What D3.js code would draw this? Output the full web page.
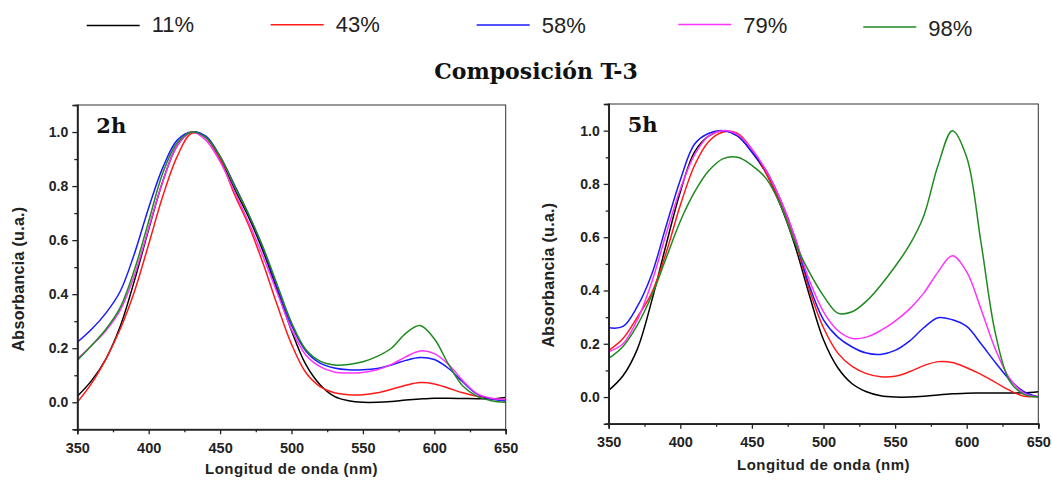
<!DOCTYPE html>
<html><head><meta charset="utf-8">
<script src="https://cdn.jsdelivr.net/npm/d3@7"></script>
<style>body{margin:0;background:#fff;overflow:hidden}</style>
</head><body>
<svg id="c" width="1052" height="484"></svg>
<script>
// ---------- DATA ----------
const wavelengths = [350,360,370,380,390,400,410,420,430,440,450,460,470,480,490,500,510,520,530,540,550,560,570,580,590,600,610,620,630,640,650];
const seriesLabels = ["11%","43%","58%","79%","98%"];
const panelLabels = ["2h","5h"];
const xTickValues = [350,400,450,500,550,600,650];
const yTickValues = [0.0,0.2,0.4,0.6,0.8,1.0];
const titleText = "Composición T-3";
const xTitle = "Longitud de onda (nm)";
const yTitle = "Absorbancia (u.a.)";

// 2h panel
const abs2h_11 = [0.022,0.08,0.16,0.28,0.45,0.64,0.82,0.95,1.0,0.98,0.9,0.79,0.685,0.56,0.415,0.265,0.14,0.065,0.022,0.006,0.0,0.0,0.003,0.008,0.012,0.015,0.015,0.014,0.013,0.013,0.018];
const abs2h_43 = [0.0,0.07,0.16,0.27,0.41,0.585,0.765,0.91,0.995,0.98,0.9,0.77,0.655,0.515,0.36,0.215,0.11,0.058,0.035,0.028,0.028,0.035,0.048,0.063,0.073,0.068,0.052,0.035,0.022,0.014,0.009];
const abs2h_58 = [0.222,0.27,0.33,0.41,0.55,0.72,0.87,0.97,1.0,0.985,0.91,0.805,0.695,0.57,0.425,0.285,0.19,0.145,0.127,0.12,0.12,0.125,0.138,0.155,0.166,0.158,0.125,0.075,0.03,0.012,0.005];
const abs2h_79 = [0.16,0.21,0.265,0.34,0.47,0.645,0.82,0.95,1.0,0.97,0.89,0.78,0.665,0.54,0.405,0.27,0.175,0.132,0.112,0.108,0.11,0.12,0.14,0.168,0.19,0.18,0.14,0.08,0.032,0.015,0.01];
const abs2h_98 = [0.155,0.21,0.27,0.35,0.49,0.67,0.85,0.96,1.0,0.98,0.91,0.8,0.695,0.575,0.435,0.295,0.195,0.152,0.138,0.14,0.15,0.17,0.2,0.255,0.284,0.235,0.14,0.06,0.022,0.006,0.0];

// 5h panel
const abs5h_11 = [0.025,0.08,0.18,0.36,0.57,0.77,0.92,0.98,1.0,0.98,0.92,0.84,0.72,0.57,0.385,0.215,0.11,0.05,0.02,0.005,0.0,0.0,0.003,0.008,0.012,0.014,0.015,0.015,0.015,0.016,0.02];
const abs5h_43 = [0.175,0.22,0.3,0.39,0.54,0.72,0.87,0.96,0.995,0.99,0.93,0.84,0.73,0.59,0.405,0.26,0.165,0.115,0.088,0.076,0.078,0.095,0.118,0.133,0.13,0.11,0.085,0.055,0.025,0.003,0.003];
const abs5h_58 = [0.26,0.265,0.34,0.46,0.64,0.815,0.95,0.99,1.0,0.98,0.92,0.85,0.74,0.6,0.42,0.29,0.225,0.188,0.165,0.16,0.175,0.21,0.26,0.298,0.29,0.265,0.2,0.13,0.065,0.02,0.0];
const abs5h_79 = [0.17,0.2,0.29,0.43,0.61,0.78,0.91,0.98,1.0,0.985,0.93,0.85,0.74,0.6,0.44,0.32,0.25,0.22,0.225,0.25,0.285,0.33,0.39,0.47,0.53,0.47,0.33,0.18,0.07,0.015,0.0];
const abs5h_98 = [0.145,0.19,0.27,0.38,0.52,0.66,0.77,0.85,0.895,0.9,0.87,0.82,0.72,0.58,0.47,0.38,0.315,0.32,0.36,0.42,0.49,0.57,0.68,0.87,1.0,0.9,0.58,0.24,0.06,0.01,0.0];

// ---------- STYLE / LAYOUT ----------
const colors = ["#000000","#ff1a1a","#1a1aff","#ff33ff","#1f8a1f"];
const panels = [
  {label: panelLabels[0], series: [abs2h_11,abs2h_43,abs2h_58,abs2h_79,abs2h_98],
   L: 77.3, R: 505.7, T: 105, B: 429.3, yTitleX: 19, yTitleY: 279, xTitleY: 474},
  {label: panelLabels[1], series: [abs5h_11,abs5h_43,abs5h_58,abs5h_79,abs5h_98],
   L: 608.7, R: 1038.3, T: 104, B: 423.7, yTitleX: 549, yTitleY: 275, xTitleY: 470}
];

const svg = d3.select("#c");
const sans = "'Liberation Sans', Arial, sans-serif";
const serif = "'DejaVu Serif', serif";

// Legend
const legendLineX = [86.7, 270.7, 476.7, 678.3, 863.3];
const legendLineY = [25.5, 24.8, 25, 24.5, 27];
const legendTextY = [32, 32, 33.3, 33.3, 36];
seriesLabels.forEach((lab, i) => {
  const g = svg.append("g");
  g.append("line").attr("x1", legendLineX[i]).attr("x2", legendLineX[i] + 53)
    .attr("y1", legendLineY[i]).attr("y2", legendLineY[i])
    .attr("stroke", colors[i]).attr("stroke-width", 1.6);
  g.append("text").attr("x", legendLineX[i] + 65).attr("y", legendTextY[i])
    .attr("font-family", sans).attr("font-size", 22).attr("fill", "#222").text(lab);
});

// Title
svg.append("text").attr("x", 536).attr("y", 79).attr("text-anchor", "middle")
  .attr("font-family", serif).attr("font-weight", "bold").attr("font-size", 22)
  .attr("fill", "#111").text(titleText);

panels.forEach((p, pi) => {
  const x = d3.scaleLinear().domain([350, 650]).range([p.L, p.R]);
  const y = d3.scaleLinear().domain([-0.1, 1.1]).range([p.B, p.T]);
  const g = svg.append("g");

  const clipId = "clip" + pi;
  svg.append("defs").append("clipPath").attr("id", clipId)
    .append("rect").attr("x", p.L).attr("y", p.T).attr("width", p.R - p.L).attr("height", p.B - p.T);

  // series
  const line = d3.line().x((d, i) => x(wavelengths[i])).y(d => y(d)).curve(d3.curveCatmullRom.alpha(0.5));
  const lg = g.append("g").attr("clip-path", `url(#${clipId})`);
  p.series.forEach((s, si) => {
    lg.append("path").datum(s).attr("d", line).attr("fill", "none")
      .attr("stroke", colors[si]).attr("stroke-width", 1.5).attr("stroke-linejoin", "round");
  });

  // frame
  g.append("rect").attr("x", p.L).attr("y", p.T).attr("width", p.R - p.L).attr("height", p.B - p.T)
    .attr("fill", "none").attr("stroke", "#333").attr("stroke-width", 1);

  // x axis
  const xAxis = d3.axisBottom(x).tickValues(xTickValues).tickSize(5).tickPadding(8).tickFormat(d3.format("d"));
  const xa = g.append("g").attr("transform", `translate(0,${p.B})`).call(xAxis);
  const xMinor = d3.axisBottom(x).tickValues([375,425,475,525,575,625]).tickSize(3).tickFormat("");
  const xm = g.append("g").attr("transform", `translate(0,${p.B})`).call(xMinor);

  // y axis
  const yAxis = d3.axisLeft(y).tickValues(yTickValues).tickSize(5).tickPadding(4).tickFormat(d3.format(".1f"));
  const ya = g.append("g").attr("transform", `translate(${p.L},0)`).call(yAxis);
  const yMinor = d3.axisLeft(y).tickValues([-0.1,0.1,0.3,0.5,0.7,0.9]).tickSize(3).tickFormat("");
  const ym = g.append("g").attr("transform", `translate(${p.L},0)`).call(yMinor);

  [xa, xm, ya, ym].forEach(a => {
    a.select(".domain").attr("stroke", "#222").attr("stroke-width", 1.6);
    a.selectAll(".tick line").attr("stroke", "#222").attr("stroke-width", 1.3);
  });
  xa.selectAll("text").attr("font-family", sans).attr("font-weight", "bold").attr("font-size", 14.5).attr("fill", "#222");
  ya.selectAll("text").attr("font-family", sans).attr("font-weight", "bold").attr("font-size", 14).attr("fill", "#222");

  // panel label
  g.append("text").attr("x", p.L + 19).attr("y", p.T + 28)
    .attr("font-family", serif).attr("font-weight", "bold").attr("font-size", 21).attr("fill", "#111").text(p.label);

  // axis titles
  g.append("text").attr("x", (p.L + p.R) / 2).attr("y", p.xTitleY).attr("text-anchor", "middle")
    .attr("font-family", sans).attr("font-weight", "bold").attr("font-size", 15).attr("letter-spacing", 0.5)
    .attr("fill", "#222").text(xTitle);
  g.append("text").attr("transform", `translate(${p.yTitleX + 5},${p.yTitleY}) rotate(-90)`)
    .attr("text-anchor", "middle").attr("font-family", sans).attr("font-weight", "bold")
    .attr("font-size", 16).attr("letter-spacing", 0.3).attr("fill", "#222").text(yTitle);
});
</script>
</body></html>
